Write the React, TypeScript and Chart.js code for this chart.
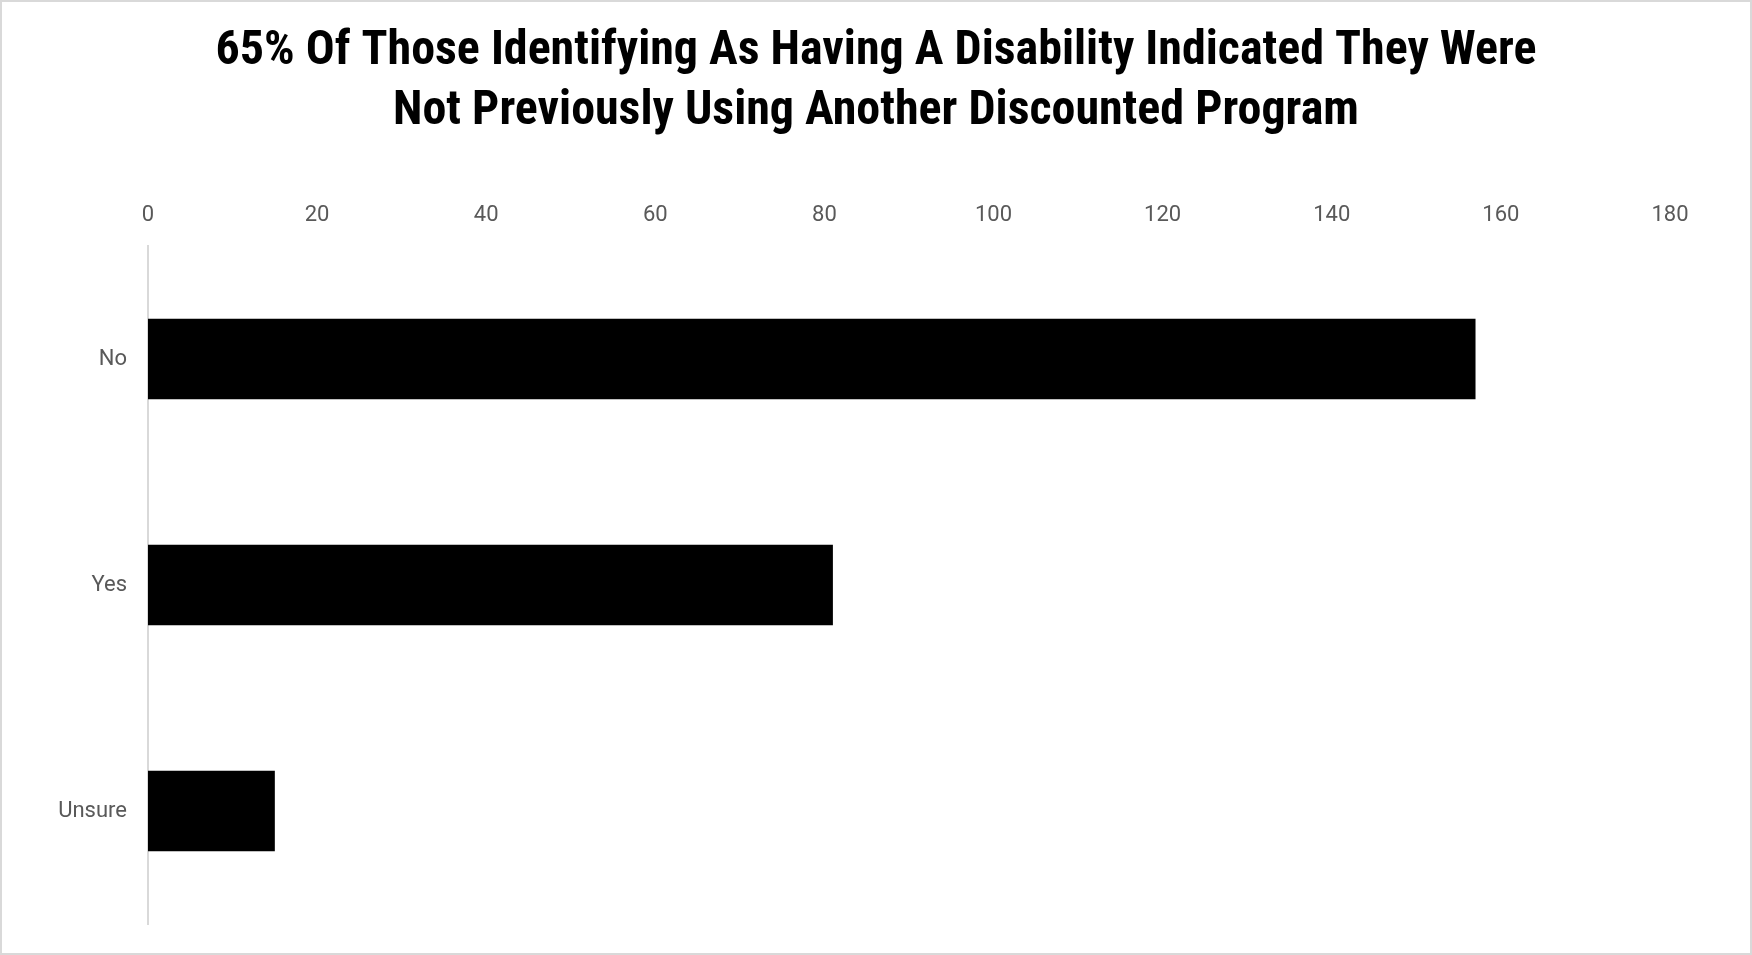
import React, { useEffect, useRef } from "react";
import { Chart, registerables } from "chart.js";

Chart.register(...registerables);

const titleLines = [
  "65% Of Those Identifying As Having A Disability Indicated They Were",
  "Not Previously Using Another Discounted Program",
];
const categories = ["No", "Yes", "Unsure"];
const counts = [157, 81, 15];
const xMin = 0;
const xMax = 180;
const xStep = 20;

const frame = {
  id: "frame",
  beforeDraw(chart: any) {
    const { ctx, width, height } = chart;
    ctx.save();
    ctx.fillStyle = "#ffffff";
    ctx.fillRect(0, 0, width, height);
    ctx.strokeStyle = "#d9d9d9";
    ctx.lineWidth = 2;
    ctx.strokeRect(1, 1, width - 2, height - 2);
    ctx.restore();
  },
};

export default function App() {
  const ref = useRef<HTMLCanvasElement>(null);
  useEffect(() => {
    document.body.style.margin = "0";
    const canvas = ref.current!;
    const chart = new Chart(canvas, {
      type: "bar",
      data: {
        labels: categories,
        datasets: [
          {
            data: counts,
            backgroundColor: "#000000",
            borderWidth: 0,
            barPercentage: 0.356,
            categoryPercentage: 1,
          },
        ],
      },
      plugins: [frame],
      options: {
        indexAxis: "y",
        animation: false,
        responsive: false,
        maintainAspectRatio: false,
        layout: { padding: { left: 0, right: 0, top: 0, bottom: 31 } },
        plugins: {
          legend: { display: false },
          tooltip: { enabled: false },
          title: {
            display: true,
            text: titleLines,
            color: "#000000",
            font: {
              family: "'Liberation Sans Narrow', 'Roboto Condensed', 'DejaVu Sans Condensed', sans-serif",
              size: 48,
              weight: "bold",
              lineHeight: 60 / 48,
            },
            padding: { top: 22, bottom: 44 },
          },
        },
        scales: {
          x: {
            position: "top",
            min: xMin,
            max: xMax,
            ticks: {
              stepSize: xStep,
              color: "#595959",
              padding: 9,
              font: { family: "Roboto, sans-serif", size: 22 },
            },
            grid: { display: false },
            border: { display: false },
            afterFit(axis: any) {
              axis.height = 60;
            },
          },
          y: {
            ticks: {
              color: "#595959",
              padding: 13,
              font: { family: "Roboto, sans-serif", size: 22 },
            },
            grid: { display: false },
            border: { display: true, color: "#d9d9d9", width: 2 },
            afterFit(axis: any) {
              axis.width = 148;
            },
          },
          yRight: {
            type: "category",
            position: "right",
            labels: categories,
            ticks: { display: false },
            grid: { display: false },
            border: { display: false },
            afterFit(axis: any) {
              axis.width = 82;
            },
          },
        },
      },
    });
    return () => chart.destroy();
  }, []);
  return (
    <div style={{ position: "absolute", left: 0, top: 0, width: 1752, height: 955 }}>
      <canvas ref={ref} width={1752} height={955} style={{ width: 1752, height: 955, display: "block" }} />
    </div>
  );
}
